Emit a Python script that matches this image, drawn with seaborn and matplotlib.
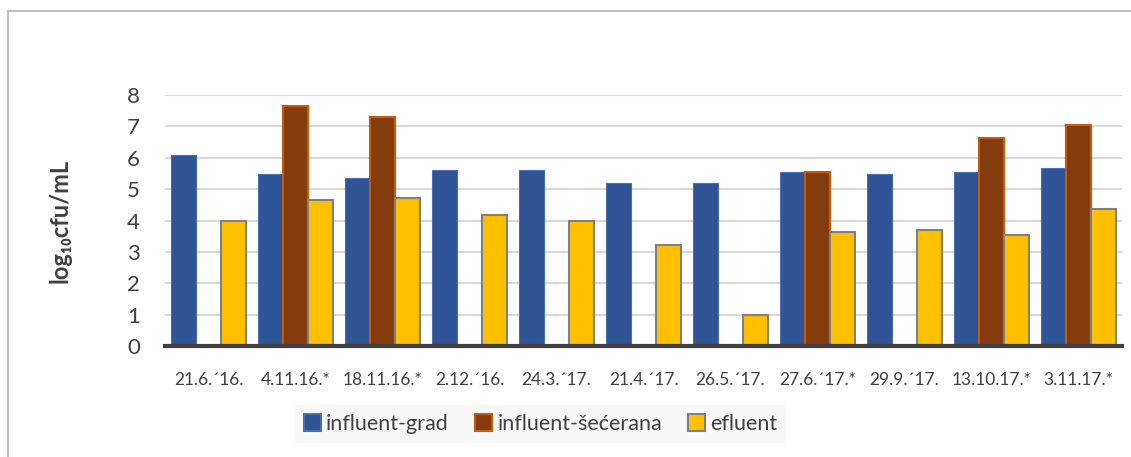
import numpy as np
import pandas as pd
import matplotlib
matplotlib.use("Agg")
import matplotlib.pyplot as plt
from matplotlib.lines import Line2D
import seaborn as sns

dates = ["21.6.\u00b416.", "4.11.16.*", "18.11.16.*", "2.12.\u00b416.", "24.3.\u00b417.",
         "21.4.\u00b417.", "26.5.\u00b417.", "27.6.\u00b417.*", "29.9.\u00b417.",
         "13.10.17.*", "3.11.17.*"]
series = ["influent-grad", "influent-\u0161e\u0107erana", "efluent"]
influent_grad = [6.10, 5.48, 5.35, 5.62, 5.62, 5.21, 5.21, 5.55, 5.48, 5.55, 5.69]
influent_secerana = [np.nan, 7.66, 7.31, np.nan, np.nan, np.nan, np.nan, 5.55, np.nan, 6.63, 7.04]
efluent = [3.98, 4.65, 4.72, 4.17, 3.98, 3.22, 0.98, 3.63, 3.69, 3.55, 4.38]

df = pd.DataFrame({
    "date": dates * 3,
    "series": [series[0]] * 11 + [series[1]] * 11 + [series[2]] * 11,
    "value": influent_grad + influent_secerana + efluent,
})

sns.set_theme(style="white")
plt.rcParams["font.family"] = ["Lato", "DejaVu Sans"]

fill = ["#2F5597", "#843C0C", "#FFC000"]
edge = ["#4A6FB0", "#C55A11", "#808080"]

fig = plt.figure(figsize=(11.31, 4.57), dpi=100)
ax = fig.add_axes([0.146, 0.243, 0.846, 0.549])

sns.barplot(data=df, x="date", y="value", hue="series", hue_order=series,
            order=dates, palette=fill, saturation=1, width=0.86, gap=0,
            errorbar=None, ax=ax, legend=False)

for patches, e, fc in zip(ax.containers, edge, fill):
    for p in patches:
        p.set_edgecolor(e)
        p.set_linewidth(1.5 if fc != "#2F5597" else 0.8)

ax.set_ylim(0, 8)
ax.set_yticks(range(0, 9))
ax.set_xlim(-0.5, 10.5)
ax.yaxis.grid(True, color="#d9d9d9", linewidth=1.5)
ax.set_axisbelow(True)
for s in ["top", "right", "left"]:
    ax.spines[s].set_visible(False)
ax.spines["bottom"].set_color("#404040")
ax.spines["bottom"].set_linewidth(3)
ax.tick_params(axis="both", length=0)
ax.tick_params(axis="y", labelsize=16, labelcolor="#404040", pad=18)
ax.tick_params(axis="x", labelsize=12.5, labelcolor="#404040", pad=19)
ax.set_xlabel("")
ax.set_ylabel("log\u2081\u2080cfu/mL", fontsize=17, fontweight="bold", color="#404040", labelpad=40)

handles = [plt.Rectangle((0, 0), 1, 1, facecolor=f, edgecolor=e, linewidth=1.5)
           for f, e in zip(fill, edge)]
leg = fig.legend(handles, series, loc="center", bbox_to_anchor=(0.478, 0.072),
                 ncol=3, fontsize=15.5, frameon=True, fancybox=False,
                 handlelength=0.8, handleheight=0.8, handletextpad=0.25,
                 columnspacing=1.2, borderpad=0.4)
leg.get_frame().set_facecolor("#f7f7f7")
leg.get_frame().set_edgecolor("none")
for t in leg.get_texts():
    t.set_color("#404040")

fig.add_artist(Line2D([7.5 / 1131, 7.5 / 1131], [0, 1 - 10.5 / 457],
                      transform=fig.transFigure, color="#c0c0c0", linewidth=1.5))
fig.add_artist(Line2D([7.5 / 1131, 1], [1 - 10.5 / 457, 1 - 10.5 / 457],
                      transform=fig.transFigure, color="#c0c0c0", linewidth=1.5))

fig.savefig("out.png", dpi=100)
